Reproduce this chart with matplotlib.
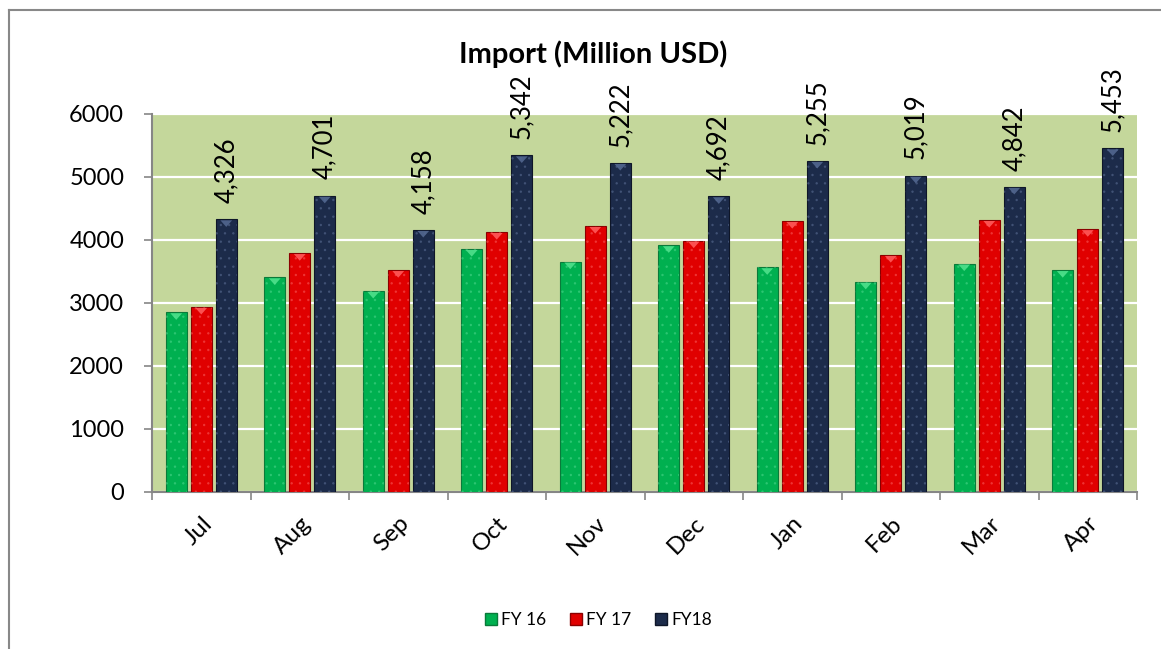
import matplotlib
matplotlib.use("Agg")
import matplotlib.pyplot as plt
import numpy as np
from matplotlib.lines import Line2D

months = ["Jul", "Aug", "Sep", "Oct", "Nov", "Dec", "Jan", "Feb", "Mar", "Apr"]
fy16 = [2850, 3405, 3190, 3855, 3655, 3915, 3565, 3335, 3625, 3520]
fy17 = [2935, 3790, 3520, 4125, 4220, 3990, 4300, 3760, 4315, 4170]
fy18 = [4326, 4701, 4158, 5342, 5222, 4692, 5255, 5019, 4842, 5453]
series_names = ["FY 16", "FY 17", "FY18"]
yticks = [0, 1000, 2000, 3000, 4000, 5000, 6000]

colors = ["#00b050", "#e00000", "#1c2b4a"]
edge_colors = ["#0a7a3a", "#8a0000", "#0e1628"]
dot_colors = ["#5fe09a", "#ff7070", "#6b7fa8"]
bevel_colors = ["#4fe08c", "#ff5a5a", "#52678f"]

plt.rcParams['font.family'] = ['Lato', 'DejaVu Sans']
plt.rcParams['hatch.linewidth'] = 0.6

W, H = 1161, 649
fig = plt.figure(figsize=(W / 100, H / 100), dpi=100)
ax = fig.add_axes([152 / W, 1 - 491.7 / H, (1137 - 152) / W, (491.7 - 114) / H])
ax.set_facecolor("#c4d79b")

x = np.arange(len(months))
bw = 0.213
pitch = 0.254
for i, data in enumerate([fy16, fy17, fy18]):
    pos = x + (i - 1) * pitch
    ax.bar(pos, data, width=bw, color=colors[i], edgecolor=edge_colors[i],
           linewidth=0.8, zorder=3, label=series_names[i])
    ax.bar(pos, data, width=bw, color="none", edgecolor=dot_colors[i],
           hatch="..", linewidth=0, zorder=4, alpha=0.35)
    for p, v in zip(pos, data):
        ax.fill([p - bw * 0.28, p + bw * 0.28, p], [v - 15, v - 15, v - 120],
                color=bevel_colors[i], zorder=5, linewidth=0, alpha=0.9)

for xi, v in zip(x + pitch, fy18):
    ax.text(xi, v + 260, f"{v:,}", rotation=90, ha="center", va="bottom",
            fontsize=18.5, zorder=5)

ax.set_ylim(0, 6000)
ax.set_xlim(-0.5, len(months) - 0.5)
ax.set_yticks(yticks)
ax.set_yticklabels([str(t) for t in yticks], fontsize=17)
ax.yaxis.grid(True, color="white", linewidth=1.6, zorder=1)
ax.set_axisbelow(True)

ax.set_xticks(np.arange(-0.5, len(months), 1.0))
ax.set_xticklabels([])
ax.set_xticks(x, minor=True)
ax.set_xticklabels(months, minor=True, rotation=45, ha="right", va="top",
                   rotation_mode="anchor", fontsize=17.5)
ax.tick_params(axis="x", which="minor", length=0, pad=15)
ax.tick_params(axis="x", which="major", length=6, color="#868686", width=1.2)
ax.tick_params(axis="y", length=6, color="#868686", width=1.2, pad=14)

for s in ["top", "right"]:
    ax.spines[s].set_visible(False)
for s in ["left", "bottom"]:
    ax.spines[s].set_color("#868686")
    ax.spines[s].set_linewidth(1.5)

fig.text(593 / W, 1 - 54.5 / H, "Import (Million USD)", ha="center", va="center",
         fontsize=21, fontweight="bold")

handles = [Line2D([0], [0], marker="s", color="none", markerfacecolor=colors[i],
                  markeredgecolor=edge_colors[i], markersize=9, label=series_names[i])
           for i in range(3)]
fig.legend(handles=handles, loc="center", bbox_to_anchor=(597 / W, 1 - 620 / H),
           ncol=3, frameon=False, fontsize=12.5, handletextpad=0.1, columnspacing=1.2,
           handlelength=1.0)

# outer chart frame
fig.add_artist(Line2D([9 / W, 1.0], [1 - 10 / H, 1 - 10 / H], color="#888888",
                      linewidth=1.5, transform=fig.transFigure))
fig.add_artist(Line2D([9 / W, 9 / W], [1 - 10 / H, 0.0], color="#888888",
                      linewidth=1.5, transform=fig.transFigure))

fig.savefig("out.png", dpi=100)
